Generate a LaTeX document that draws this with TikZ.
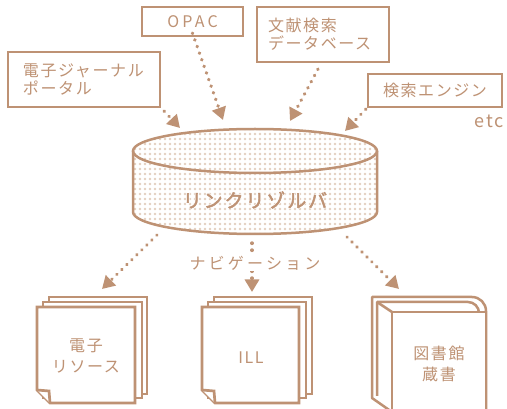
\documentclass[tikz,border=0pt]{standalone}
\usepackage{fontspec}
\setmainfont{Noto Sans CJK JP}
\newfontfamily\jp[LetterSpace=10]{Noto Sans CJK JP}
\newfontfamily\jpw[LetterSpace=20]{Noto Sans CJK JP}
\newfontfamily\jpb[LetterSpace=10,FakeBold=2.5]{Noto Sans CJK JP}
\newfontfamily\jph[LetterSpace=10,FakeBold=9]{Noto Sans CJK JP}
\usetikzlibrary{arrows.meta,patterns.meta}
\definecolor{br}{HTML}{BE9274}
\definecolor{dotc}{HTML}{E3CFC0}
\tikzset{
  box/.style={draw=br, line width=2.3pt, fill=white, inner sep=0pt, font=\jp\fontsize{16}{18}\selectfont, text=br},
  lbl/.style={inner sep=0pt, font=\jp\fontsize{16}{21.5}\selectfont, text=br, align=center},
  dotarrow/.style={draw=br, line width=3.4pt, line cap=round, dash pattern=on 0.4pt off 6.6pt, -{Triangle[length=12.5pt,width=14pt]}},
  pagebox/.style={draw=br, line width=2.7pt, fill=white, line join=miter},
  bookline/.style={draw=br, line width=2.5pt, line join=round},
}
\begin{document}
\begin{tikzpicture}[x=1pt,y=-1pt]
\useasboundingbox[fill=white] (0,0) rectangle (507,409);

% ---- top boxes ----
\node[box, minimum width=152, minimum height=55, text width=122, align=left] (ej) at (84,79.5) {電子ジャーナル\\ポータル};
\node[box, minimum width=101, minimum height=29, font=\jpw\fontsize{16}{18}\selectfont] (opac) at (192.5,21.5) {OPAC};
\node[box, minimum width=132, minimum height=55, text width=110, align=left] (db) at (323,34.5) {文献検索\\データベース};
\node[box, minimum width=134, minimum height=33] (se) at (435,90.5) {検索エンジン};
\node[lbl, font=\jp\fontsize{18}{20}\selectfont] (etc) at (489,121) {etc};

% ---- resolver cylinder ----
\path[pattern={Dots[distance=5pt,radius=1.3pt]}, pattern color=dotc]
  (133,151) -- (133,212) arc[start angle=180,end angle=0,x radius=122,y radius=22]
  -- (377,151) arc[start angle=0,end angle=-180,x radius=122,y radius=22] -- cycle;
\draw[br, line width=2.5pt]
  (133,151) -- (133,212) arc[start angle=180,end angle=0,x radius=122,y radius=22]
  -- (377,151);
\draw[br, line width=2.5pt] (255,151) ellipse[x radius=122, y radius=22];
\node[lbl, font=\jph\fontsize{19}{20}\selectfont, text=white] (halo) at (255,200) {リンクリゾルバ};
\node[lbl, font=\jpb\fontsize{19}{20}\selectfont] (lr) at (255,200) {リンクリゾルバ};

% arrow end points at the resolver
\coordinate (t1) at (180,128);
\coordinate (t2) at (223,120);
\coordinate (t3) at (290,121);
\coordinate (t4) at (345,131);
\draw[dotarrow] ([shift={(3,3)}]ej.south east) -- (t1);
\draw[dotarrow] ([yshift=4]opac.south) -- (t2);
\draw[dotarrow] ([shift={(-5,6)}]db.south) -- (t3);
\draw[dotarrow] ([shift={(-1,1)}]se.south west) -- (t4);

% ---- bottom ----
\coordinate (s1) at (157,235);
\coordinate (s2) at (252,243);
\coordinate (s3) at (347,237);
\coordinate (b1) at (102,289);
\coordinate (b2) at (252,292);
\coordinate (b3) at (399,289);
\draw[dotarrow] (s1) -- (b1);
\draw[dotarrow] (s2) -- (b2);
\draw[dotarrow] (s3) -- (b3);
\node[lbl, font=\jpw\fontsize{16}{18}\selectfont, fill=white, inner ysep=1pt, inner xsep=0pt] (nav) at (255,263) {ナビゲーション};

% left stack
\draw[pagebox] (49,297) rectangle (147,394);
\draw[pagebox] (43,302) rectangle (142,398);
\draw[pagebox] (37,307) -- (135,307) -- (135,403) -- (50,403) -- (37,390) -- cycle;
\draw[pagebox] (37,390) -- (49,391) -- (50,403);
\node[lbl] (er) at (86,356) {電子\\リソース};

% middle stack
\draw[pagebox] (214,297) rectangle (312,394);
\draw[pagebox] (208,302) rectangle (306,398);
\draw[pagebox] (202,307) -- (299,307) -- (299,403) -- (215,403) -- (202,390) -- cycle;
\draw[pagebox] (202,390) -- (214,391) -- (215,403);
\node[lbl] (ill) at (251,358) {ILL};

% book
\draw[bookline, fill=white] (392,412) -- (372,398) -- (372,297) -- (472,297)
   arc[start angle=-90,end angle=0,radius=14] -- (486,412);
\draw[bookline] (377,396) -- (377,302) -- (468,302) arc[start angle=-90,end angle=0,radius=11] -- (479,312);
\draw[bookline] (377,302) -- (392,312);
\draw[bookline, fill=white] (392,412) -- (392,312) -- (486,312) -- (486,412);
\node[lbl] (lib) at (439,364) {図書館\\蔵書};
\end{tikzpicture}
\end{document}
